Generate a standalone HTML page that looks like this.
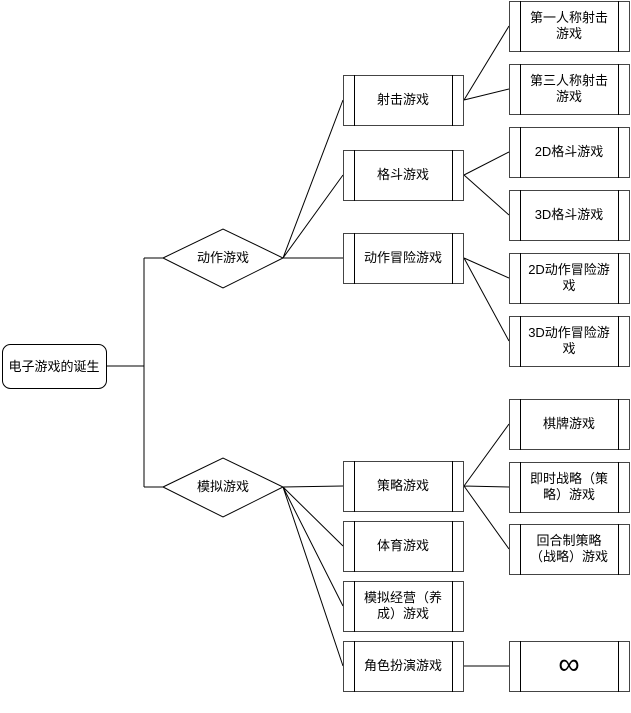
<!DOCTYPE html>
<html><head><meta charset="utf-8"><style>
html,body{margin:0;padding:0;background:#fff;}
svg{display:block;}
text{font-family:"Liberation Sans","Noto Sans CJK SC","WenQuanYi Zen Hei",sans-serif;font-size:13px;fill:#000;text-anchor:middle;}
</style></head><body>
<svg width="631" height="713" viewBox="0 0 631 713" xmlns="http://www.w3.org/2000/svg">
<g stroke="#000" stroke-width="1" fill="none">
<path d="M106 366H144M144 258V487M144 258H163M144 487H163"/>
<path d="M283 258L343 100M283 258L343 175M283 258H343"/>
<path d="M283 487L343 486M283 487L343 546M283 487L343 606M283 487L343 666"/>
<path d="M464 100L509 26M464 100L509 89M464 175L509 152M464 175L509 215M464 258L509 278M464 258L509 341M464 486L509 424M464 486L509 487M464 486L509 549M464 666H509"/>
</g>
<rect x="2.5" y="344.5" width="104" height="44" rx="8" fill="#fff" stroke="#000"/>
<text x="54" y="371">电子游戏的诞生</text>
<polygon points="163,258 223,229 283,258 223,288" fill="#fff" stroke="#000"/>
<text x="223" y="262">动作游戏</text>
<polygon points="163,487 223,458 283,487 223,517" fill="#fff" stroke="#000"/>
<text x="223" y="491">模拟游戏</text>
<g fill="#fff" stroke="#444">
<rect x="343.5" y="75.5" width="120" height="50"/><rect x="343.5" y="150.5" width="120" height="50"/><rect x="343.5" y="233.5" width="120" height="50"/>
<rect x="343.5" y="461.5" width="120" height="50"/><rect x="343.5" y="521.5" width="120" height="50"/><rect x="343.5" y="581.5" width="120" height="50"/><rect x="343.5" y="641.5" width="120" height="50"/>
<rect x="509.5" y="1.5" width="120" height="50"/><rect x="509.5" y="64.5" width="120" height="50"/><rect x="509.5" y="127.5" width="120" height="50"/><rect x="509.5" y="190.5" width="120" height="50"/>
<rect x="509.5" y="253.5" width="120" height="50"/><rect x="509.5" y="316.5" width="120" height="50"/><rect x="509.5" y="399.5" width="120" height="50"/><rect x="509.5" y="462.5" width="120" height="50"/>
<rect x="509.5" y="524.5" width="120" height="50"/><rect x="509.5" y="641.5" width="120" height="50"/>
</g>
<g stroke="#000">
<path d="M354.5 75V126M452.5 75V126M354.5 150V201M452.5 150V201M354.5 233V284M452.5 233V284M354.5 461V512M452.5 461V512M354.5 521V572M452.5 521V572M354.5 581V632M452.5 581V632M354.5 641V692M452.5 641V692"/>
<path d="M520.5 1V52M618.5 1V52M520.5 64V115M618.5 64V115M520.5 127V178M618.5 127V178M520.5 190V241M618.5 190V241M520.5 253V304M618.5 253V304M520.5 316V367M618.5 316V367M520.5 399V450M618.5 399V450M520.5 462V513M618.5 462V513M520.5 524V575M618.5 524V575M520.5 641V692M618.5 641V692"/>
</g>
<text x="403" y="104">射击游戏</text>
<text x="403" y="179">格斗游戏</text>
<text x="403" y="262">动作冒险游戏</text>
<text x="403" y="490">策略游戏</text>
<text x="403" y="550">体育游戏</text>
<text x="403" y="602">模拟经营（养</text><text x="403" y="618">成）游戏</text>
<text x="403" y="670">角色扮演游戏</text>
<text x="569" y="22">第一人称射击</text><text x="569" y="38">游戏</text>
<text x="569" y="85">第三人称射击</text><text x="569" y="101">游戏</text>
<text x="569" y="156">2D格斗游戏</text>
<text x="569" y="219">3D格斗游戏</text>
<text x="569" y="274">2D动作冒险游</text><text x="569" y="290">戏</text>
<text x="569" y="337">3D动作冒险游</text><text x="569" y="353">戏</text>
<text x="569" y="428">棋牌游戏</text>
<text x="569" y="483">即时战略（策</text><text x="569" y="499">略）游戏</text>
<text x="569" y="545">回合制策略</text><text x="569" y="561">（战略）游戏</text>
<text x="569" y="674" style="font-size:30px">∞</text>
</svg>
</body></html>
